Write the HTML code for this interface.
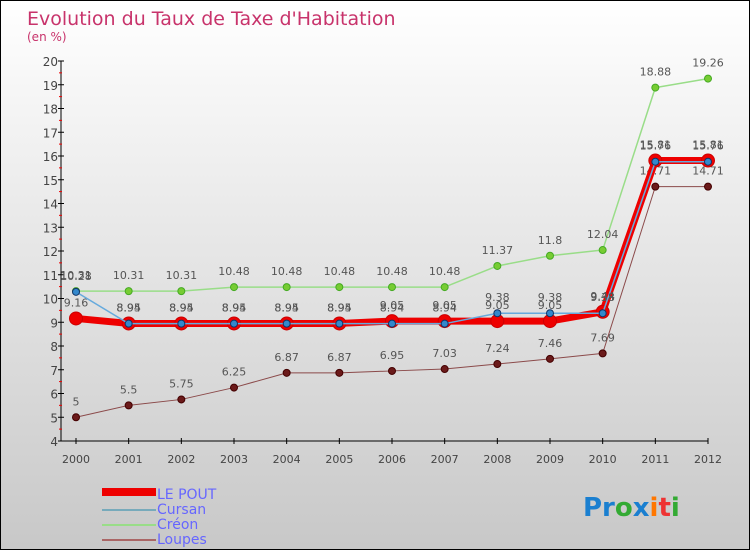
<!DOCTYPE html>
<html><head><meta charset="utf-8"><style>
body{margin:0}
#c{width:748px;height:548px;border:1px solid #000;background:linear-gradient(#fff,#c8c8c8);position:relative;overflow:hidden;font-family:"DejaVu Sans","Liberation Sans",sans-serif}
</style></head><body>
<div id="c">
<svg id="s" width="748" height="548">
<text x="26" y="24" font-size="19" fill="#c8336b">Evolution du Taux de Taxe d'Habitation</text>
<text x="26" y="40" font-size="12" fill="#c8336b">(en %)</text>
<g id="ax"></g><g id="ser"></g>
<g>
<rect x="101" y="487" width="54" height="8" fill="#e00"/>
<text x="156" y="498" font-size="14" fill="#66f">LE POUT</text>
<rect x="101" y="508" width="54" height="2" fill="#7ab"/>
<text x="156" y="513" font-size="14" fill="#66f">Cursan</text>
<rect x="101" y="523" width="54" height="2" fill="#9d8"/>
<text x="156" y="528" font-size="14" fill="#66f">Créon</text>
<rect x="101" y="538" width="54" height="2" fill="#a66"/>
<text x="156" y="543" font-size="14" fill="#66f">Loupes</text>
</g>
<text x="582" y="515" font-size="26" font-weight="bold"><tspan fill="#1a7fd0">Pr</tspan><tspan fill="#3a3">o</tspan><tspan fill="#1a7fd0">x</tspan><tspan fill="#f70">i</tspan><tspan fill="#e33">t</tspan><tspan fill="#3a3">i</tspan></text>
</svg></div>
<script>
const years=[2000,2001,2002,2003,2004,2005,2006,2007,2008,2009,2010,2011,2012];
const yTicks=[4,5,6,7,8,9,10,11,12,13,14,15,16,17,18,19,20];
const lePout=[9.16,8.95,8.95,8.95,8.95,8.95,9.05,9.05,9.05,9.05,9.44,15.81,15.81];
const cursan=[10.28,8.94,8.94,8.94,8.94,8.94,8.94,8.94,9.38,9.38,9.38,15.76,15.76];
const creon=[10.31,10.31,10.31,10.48,10.48,10.48,10.48,10.48,11.37,11.8,12.04,18.88,19.26];
const loupes=[5,5.5,5.75,6.25,6.87,6.87,6.95,7.03,7.24,7.46,7.69,14.71,14.71];
const NS="http://www.w3.org/2000/svg";
const X=i=>75+i*(632/12), Y=v=>440-(v-4)*23.75;
function mk(t,a,p){const e=document.createElementNS(NS,t);for(const k in a)e.setAttribute(k,a[k]);p.appendChild(e);return e;}
const ax=document.getElementById('ax'),ser=document.getElementById('ser');
let l=mk('line',{x1:60,y1:440,x2:707,y2:440,stroke:'#000'},ax);


l=mk('line',{x1:60,y1:60,x2:60,y2:440,stroke:'#000'},ax);


yTicks.forEach(v=>{const y=Y(v);mk('line',{x1:57,y1:y,x2:63,y2:y,stroke:'#000'},ax);
if(v<20)mk('line',{x1:58,y1:y-11.9,x2:61,y2:y-11.9,stroke:'#e00'},ax);
const t=mk('text',{x:57,y:y+5,'font-size':12,fill:'#444','text-anchor':'end'},ax);t.textContent=v;

});
years.forEach((yr,i)=>{const x=X(i);mk('line',{x1:x,y1:437,x2:x,y2:443,stroke:'#000'},ax);
const t=mk('text',{x:x,y:462,'font-size':11,fill:'#444','text-anchor':'middle'},ax);t.textContent=yr;

});
function series(d,name,col,w,dot,dcol,r){const g=mk('g',{},ser);


mk('polyline',{points:d.map((v,i)=>X(i)+','+Y(v)).join(' '),fill:'none',stroke:col,'stroke-width':w,'stroke-linejoin':'round'},g);
d.forEach((v,i)=>{const c=mk('circle',{cx:X(i),cy:Y(v),r:r,fill:dot,stroke:dcol,'stroke-width':1},g);


const t=mk('text',{x:X(i),y:Y(v)-12,'font-size':11,fill:'#555','text-anchor':'middle'},g);t.textContent=v;

});}
series(loupes,'loupes','#8b4a4a',1,'#6b1a1a','#400',3.5);
series(creon,'creon','#9d8',1.5,'#7c3','#4a2',3.5);
series(lePout,'le-pout','#e00',7,'#e00','#c00',6.5);
series(cursan,'cursan','#6ad',1.5,'#38c','#136',3.5);
</script>
</body></html>
